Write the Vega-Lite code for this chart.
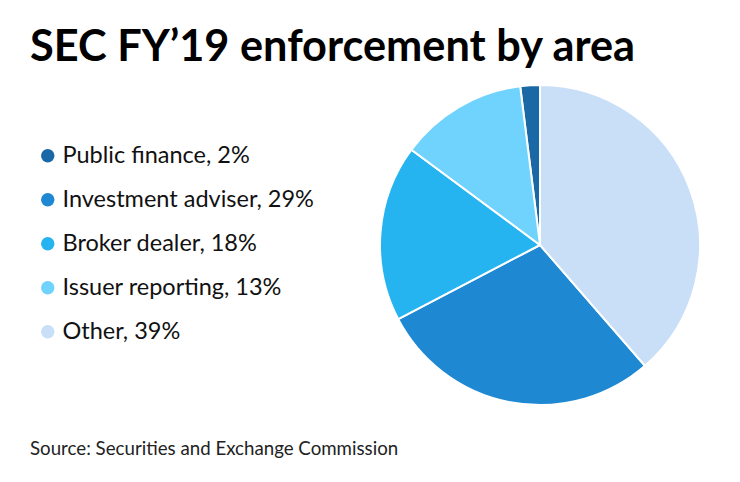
{
  "$schema": "https://vega.github.io/schema/vega-lite/v6.json",
  "width": 320,
  "height": 320,
  "autosize": {"type": "none"},
  "padding": {"left": 380, "top": 85, "right": 40, "bottom": 77},
  "background": "white",
  "title": {
    "text": "SEC FY’19 enforcement by area",
    "anchor": "start",
    "frame": "group",
    "orient": "top",
    "dx": -350,
    "offset": 11,
    "font": "Lato",
    "fontSize": 43.3,
    "fontWeight": "bold",
    "color": "#000000"
  },
  "data": {
    "values": [
      {"area": "Public finance, 2%", "pct": 2, "rank": 5},
      {"area": "Investment adviser, 29%", "pct": 29, "rank": 2},
      {"area": "Broker dealer, 18%", "pct": 18, "rank": 3},
      {"area": "Issuer reporting, 13%", "pct": 13, "rank": 4},
      {"area": "Other, 39%", "pct": 39, "rank": 1}
    ]
  },
  "mark": {"type": "arc", "stroke": "white", "strokeWidth": 2},
  "encoding": {
    "theta": {"field": "pct", "type": "quantitative", "stack": true},
    "order": {"field": "rank", "type": "quantitative"},
    "color": {
      "field": "area",
      "type": "nominal",
      "scale": {
        "domain": ["Public finance, 2%", "Investment adviser, 29%", "Broker dealer, 18%", "Issuer reporting, 13%", "Other, 39%"],
        "range": ["#1b68a6", "#1e88d3", "#26b4f0", "#70d3fd", "#c8dff7"]
      },
      "legend": {
        "title": "Source: Securities and Exchange Commission",
        "titleOrient": "bottom",
        "titleAnchor": "start",
        "titleFont": "Lato",
        "titleFontSize": 18.7,
        "titleFontWeight": "normal",
        "titleColor": "#222222",
        "titlePadding": 97,
        "titleLimit": 600,
        "orient": "none",
        "legendX": -350,
        "legendY": 59,
        "symbolOffset": 6,
        "symbolType": "circle",
        "symbolSize": 180,
        "symbolStrokeWidth": 0,
        "labelFont": "Lato",
        "labelFontSize": 23.5,
        "labelColor": "#111111",
        "labelOffset": 3,
        "rowPadding": 19,
        "labelLimit": 400
      }
    }
  },
  "config": {"view": {"stroke": null}}
}
